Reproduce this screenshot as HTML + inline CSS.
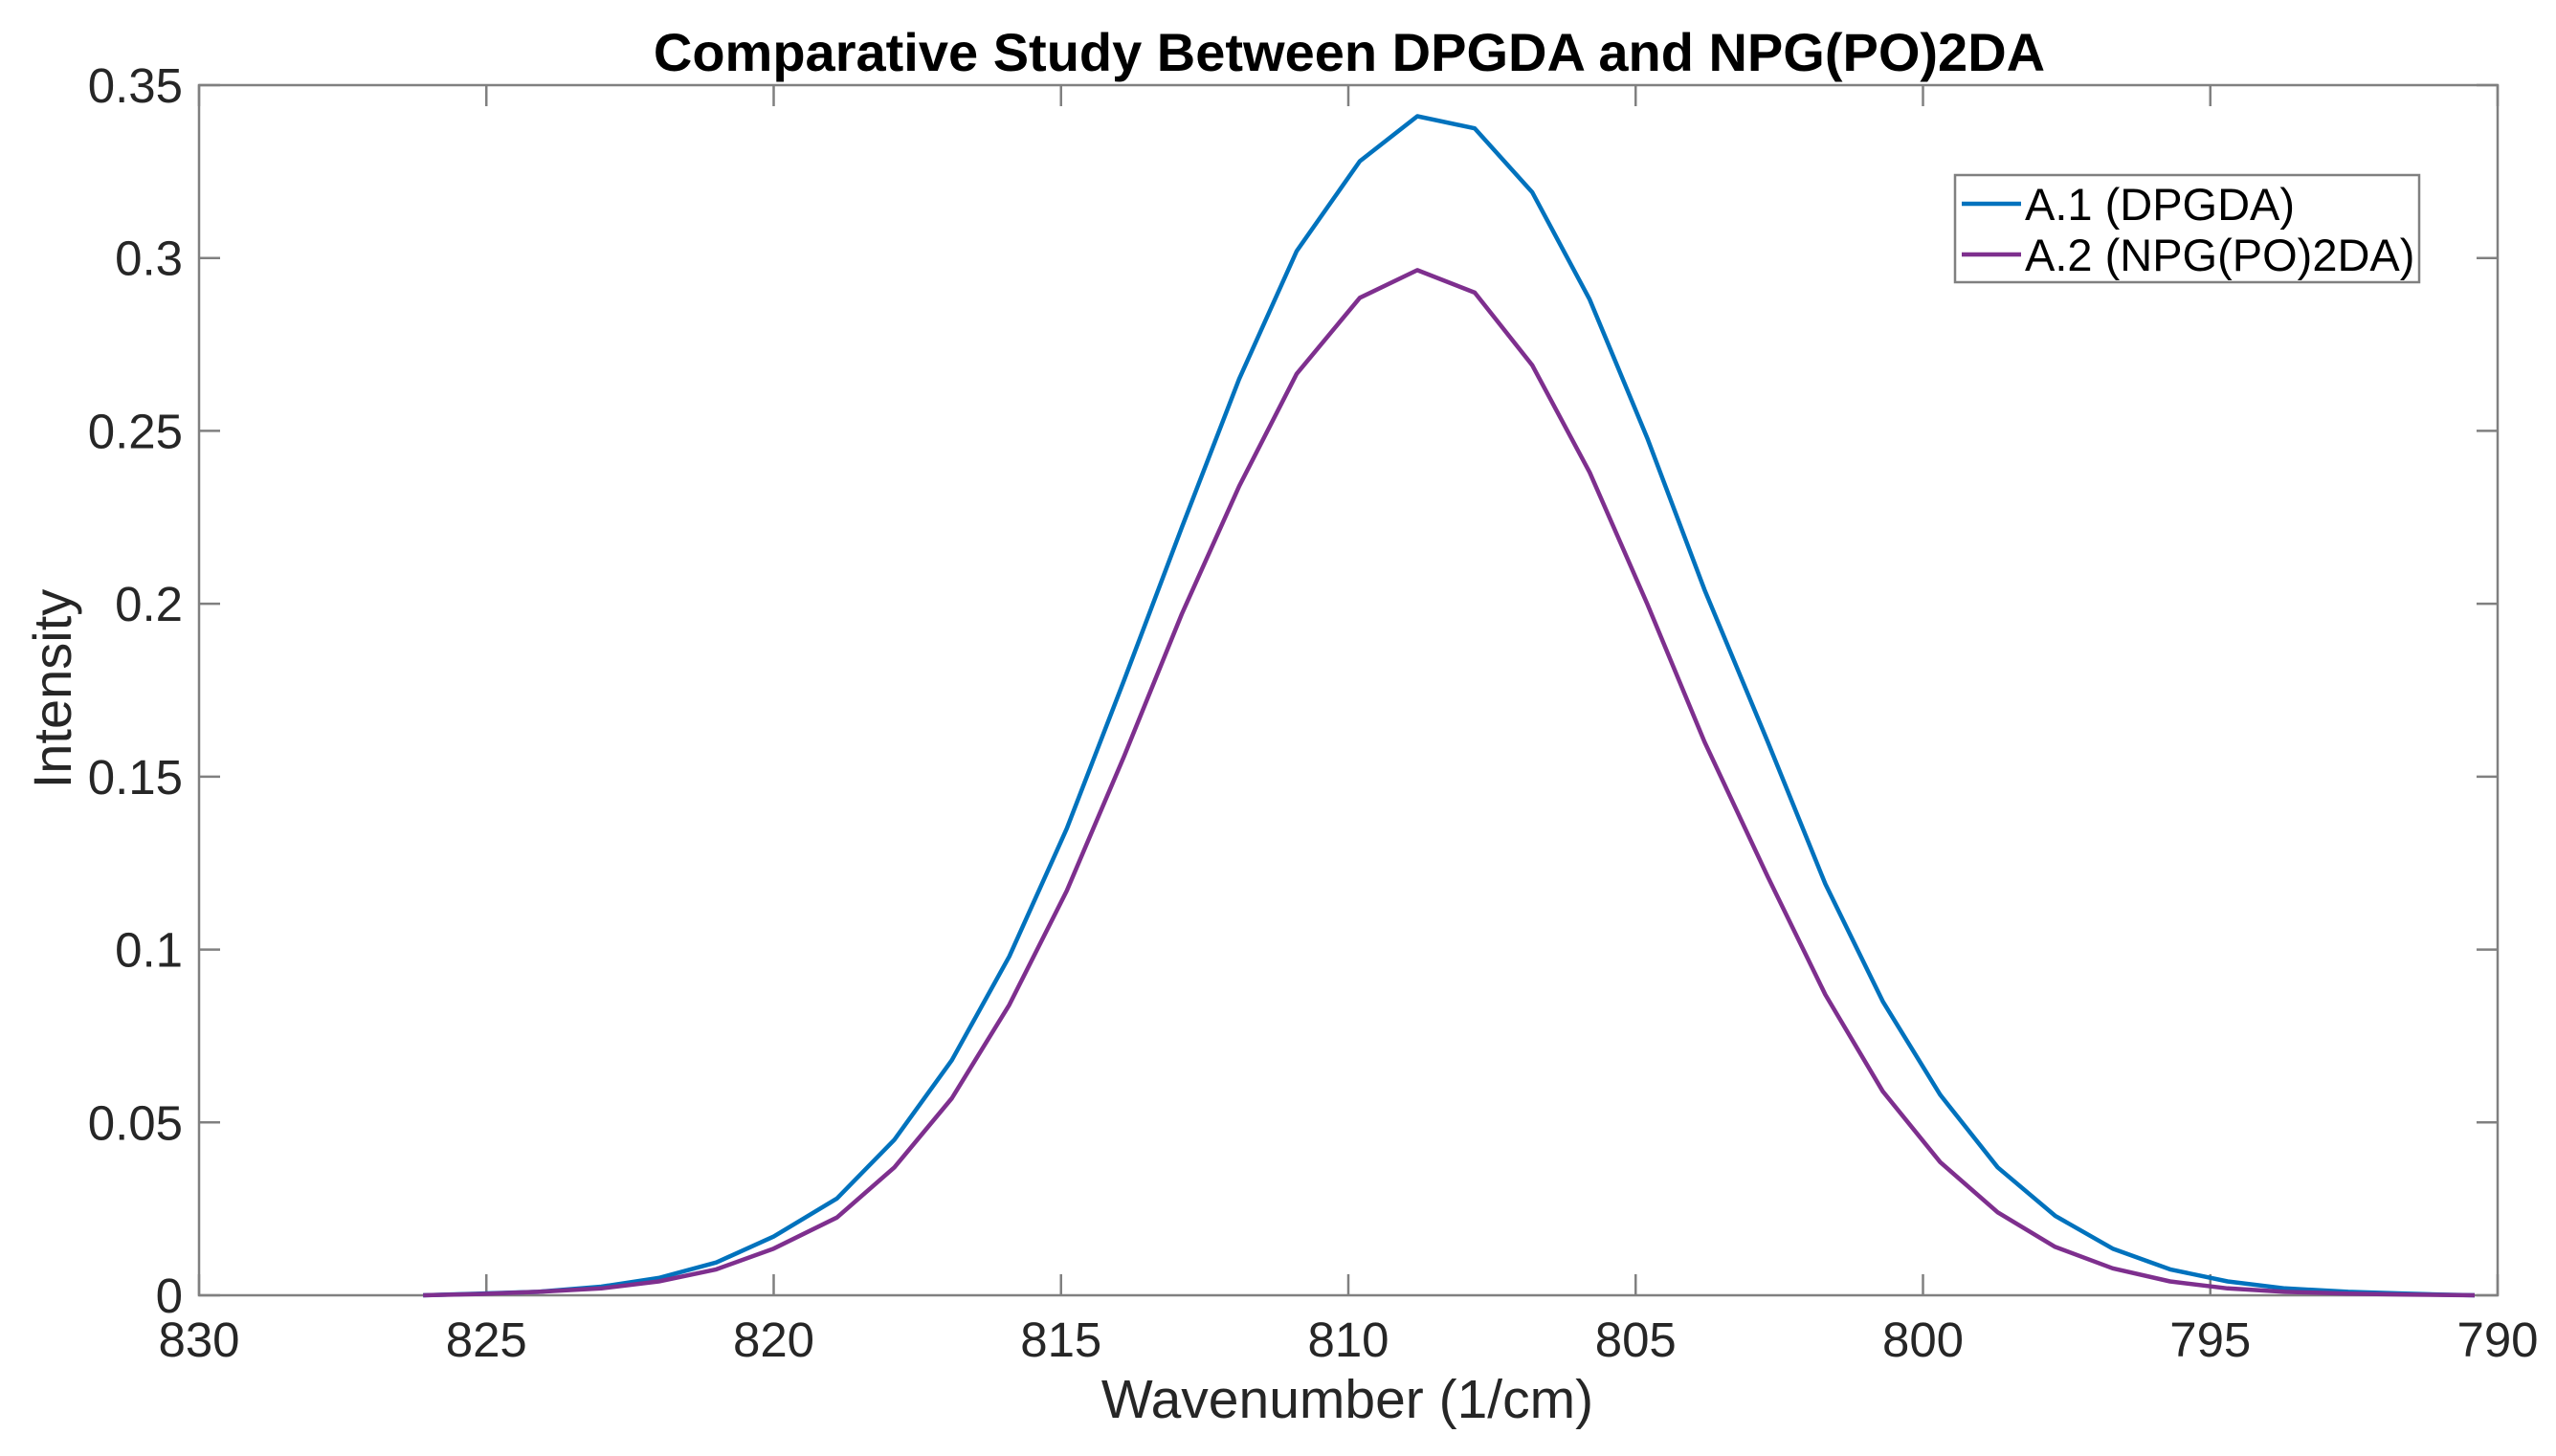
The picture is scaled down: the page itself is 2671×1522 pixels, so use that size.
<!DOCTYPE html>
<html><head><meta charset="utf-8"><style>
html,body{margin:0;padding:0;background:#fff;}
svg{display:block;font-family:"Liberation Sans",Arial,sans-serif;}
</style></head><body>
<svg id="chart" width="2671" height="1522" viewBox="0 0 2671 1522">
<rect width="2671" height="1522" fill="#fff"/>
<text x="1410" y="74" text-anchor="middle" font-size="56" font-weight="bold" fill="#000">Comparative Study Between DPGDA and NPG(PO)2DA</text>
<g id="axes"></g>
<g id="series"></g>
<text x="1408" y="1482" text-anchor="middle" font-size="57" fill="#262626">Wavenumber (1/cm)</text>
<text transform="translate(74,720) rotate(-90)" text-anchor="middle" font-size="56" fill="#262626">Intensity</text>
<g>
<rect x="2043" y="183" width="485" height="112" fill="#fff" stroke="#808080" stroke-width="2.5"/>
<line x1="2050" y1="213" x2="2112" y2="213" stroke="#0072BD" stroke-width="4.5"/>
<text x="2116" y="230" font-size="47" fill="#000">A.1 (DPGDA)</text>
<line x1="2050" y1="266" x2="2112" y2="266" stroke="#7E2F8E" stroke-width="4.5"/>
<text x="2116" y="283" font-size="47" fill="#000">A.2 (NPG(PO)2DA)</text>
</g>
</svg>
<script>
const wavenumbers=[826.1,825.1,824.1,823.0,822.0,821.0,820.0,818.9,817.9,816.9,815.9,814.9,813.9,812.9,811.9,810.9,809.8,808.8,807.8,806.8,805.8,804.8,803.8,802.7,801.7,800.7,799.7,798.7,797.7,796.7,795.7,794.7,793.7,792.6,791.6,791.0,790.4];
const dpgda=[0,0.0005,0.001,0.0025,0.005,0.0095,0.017,0.028,0.045,0.068,0.098,0.135,0.178,0.222,0.265,0.302,0.328,0.341,0.3375,0.319,0.288,0.248,0.204,0.160,0.119,0.085,0.058,0.037,0.023,0.0135,0.0075,0.004,0.002,0.001,0.0005,0.0002,0];
const npgpo2da=[0,0.0004,0.001,0.002,0.004,0.0075,0.0135,0.0225,0.037,0.057,0.084,0.117,0.156,0.197,0.234,0.2665,0.2885,0.2965,0.290,0.269,0.238,0.200,0.160,0.121,0.087,0.059,0.0385,0.024,0.014,0.0078,0.004,0.002,0.001,0.0005,0.0002,0.0001,0];
const xTicks=[830,825,820,815,810,805,800,795,790];
const yTicks=[0,0.05,0.1,0.15,0.2,0.25,0.3,0.35];
const yTickLabels=["0","0.05","0.1","0.15","0.2","0.25","0.3","0.35"];
const L=208,R=2610,T=89,B=1354;
const X=v=>L+(830-v)/(830-790)*(R-L);
const Y=v=>B-(v/0.35)*(B-T);
const NS="http://www.w3.org/2000/svg";
const axes=document.getElementById('axes');
const series=document.getElementById('series');
function mk(tag,attrs,parent){const e=document.createElementNS(NS,tag);for(const k in attrs)e.setAttribute(k,attrs[k]);parent.appendChild(e);return e;}
const frame=mk('rect',{x:L,y:T,width:R-L,height:B-T,fill:'none',stroke:'#808080','stroke-width':2.5},axes);


xTicks.forEach(t=>{
  const x=X(t);
  const a=mk('line',{x1:x,y1:B,x2:x,y2:B-22,stroke:'#808080','stroke-width':2.5},axes);
  
  
  const b=mk('line',{x1:x,y1:T,x2:x,y2:T+22,stroke:'#808080','stroke-width':2.5},axes);
  
  
  const tx=mk('text',{x:x,y:B+64,'text-anchor':'middle','font-size':51,fill:'#262626'},axes);
  tx.textContent=String(t);
  
  
});
yTicks.forEach((t,i)=>{
  const y=Y(t);
  const a=mk('line',{x1:L,y1:y,x2:L+22,y2:y,stroke:'#808080','stroke-width':2.5},axes);
  
  
  const b=mk('line',{x1:R,y1:y,x2:R-22,y2:y,stroke:'#808080','stroke-width':2.5},axes);
  
  
  const tx=mk('text',{x:L-17,y:y+18,'text-anchor':'end','font-size':51,fill:'#262626'},axes);
  tx.textContent=yTickLabels[i];
  
  
});
function line(vals,color,name){
  const d=vals.map((v,i)=>(i?'L':'M')+X(wavenumbers[i]).toFixed(1)+' '+Y(v).toFixed(1)).join(' ');
  const p=mk('path',{d:d,fill:'none',stroke:color,'stroke-width':4.5,'stroke-linejoin':'round'},series);
  
  
}
line(dpgda,'#0072BD','line-dpgda');
line(npgpo2da,'#7E2F8E','line-npgpo2da');
</script>
</body></html>
